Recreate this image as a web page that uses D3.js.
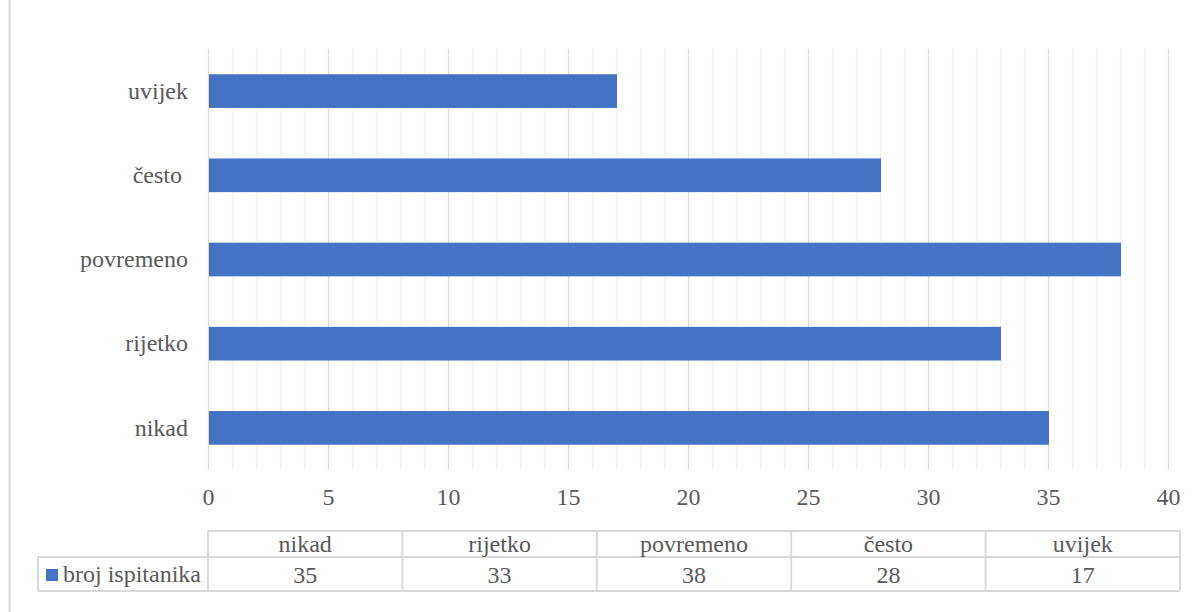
<!DOCTYPE html>
<html>
<head>
<meta charset="utf-8">
<script src="https://cdn.jsdelivr.net/npm/d3@7"></script>
</head>
<body style="margin:0">
<svg id="chart"></svg>
<script>
const categories = ["nikad", "rijetko", "povremeno", "često ", "uvijek"];
const values = [35, 33, 38, 28, 17];
const seriesName = "broj ispitanika";
const xTicks = [0, 5, 10, 15, 20, 25, 30, 35, 40];

const FONT = '"Liberation Serif"';
const FS = "24px";
const TXT = "#595959";

const width = 1196, height = 612;
const margin = { top: 49, left: 208, right: 28, bottom: 142 };
const iwidth = width - margin.left - margin.right;
const iheight = height - margin.top - margin.bottom;

const svg = d3.select("#chart").attr("width", width).attr("height", height)
  .style("font-family", FONT, "important");

// outer chart border (only left edge visible)
svg.append("line")
  .attr("x1", 9.5).attr("x2", 9.5).attr("y1", 0).attr("y2", height)
  .attr("stroke", "#d9d9d9").attr("stroke-width", 2);

const g = svg.append("g").attr("transform", `translate(${margin.left},${margin.top})`);

const x = d3.scaleLinear().domain([0, 40]).range([0, iwidth]);
const y = d3.scaleBand()
  .domain(categories.slice().reverse())
  .range([0, iheight])
  .paddingInner(0.6).paddingOuter(0.3);

// minor grid
g.append("g").selectAll("line")
  .data(d3.range(0, 41).filter(d => d % 5 !== 0))
  .join("line")
  .attr("x1", d => x(d) + 0.5).attr("x2", d => x(d) + 0.5)
  .attr("y1", 0).attr("y2", iheight)
  .attr("stroke", "#f0f0f0").attr("stroke-width", 1.3);

// major grid
g.append("g").selectAll("line")
  .data(xTicks)
  .join("line")
  .attr("x1", d => x(d) + 0.5).attr("x2", d => x(d) + 0.5)
  .attr("y1", 0).attr("y2", iheight)
  .attr("stroke", "#d9d9d9").attr("stroke-width", 1.3);

// bars
g.selectAll("rect.bar")
  .data(categories.map((c, i) => ({ c, v: values[i] })))
  .join("rect")
  .attr("class", "bar")
  .attr("x", x(0) + 1)
  .attr("y", d => y(d.c))
  .attr("width", d => x(d.v) - x(0))
  .attr("height", y.bandwidth())
  .attr("fill", "#4472c4");

function serif(sel) {
  return sel.style("font-family", FONT, "important")
    .style("font-size", FS).attr("fill", TXT);
}

// x axis labels
const xAxis = g.append("g")
  .attr("transform", `translate(0,${iheight})`)
  .call(d3.axisBottom(x).tickValues(xTicks).tickSize(0).tickPadding(18));
xAxis.attr("font-family", null).attr("font-size", null);
xAxis.select(".domain").remove();
serif(xAxis.selectAll("text"));

// y axis labels
const yAxis = g.append("g")
  .call(d3.axisLeft(y).tickSize(0).tickPadding(20));
yAxis.attr("font-family", null).attr("font-size", null);
yAxis.select(".domain").remove();
serif(yAxis.selectAll("text")).style("white-space", "pre");

// data table
const tTop = 531 - margin.top, rowH1 = 26, rowH2 = 34;
const tRight = 1180 - margin.left;
const colW = tRight / categories.length;
const legLeft = 38 - margin.left;
const tg = g.append("g");
const stroke = "#d9d9d9";

tg.append("line").attr("x1", 0).attr("x2", tRight).attr("y1", tTop).attr("y2", tTop).attr("stroke", stroke).attr("stroke-width", 2);
tg.append("line").attr("x1", legLeft).attr("x2", tRight).attr("y1", tTop + rowH1).attr("y2", tTop + rowH1).attr("stroke", stroke).attr("stroke-width", 2);
tg.append("line").attr("x1", legLeft).attr("x2", tRight).attr("y1", tTop + rowH1 + rowH2).attr("y2", tTop + rowH1 + rowH2).attr("stroke", stroke).attr("stroke-width", 2);
tg.append("line").attr("x1", legLeft).attr("x2", legLeft).attr("y1", tTop + rowH1).attr("y2", tTop + rowH1 + rowH2).attr("stroke", stroke).attr("stroke-width", 2);
tg.selectAll("line.col")
  .data(d3.range(0, categories.length + 1))
  .join("line")
  .attr("class", "col")
  .attr("x1", d => d * colW).attr("x2", d => d * colW)
  .attr("y1", tTop).attr("y2", tTop + rowH1 + rowH2)
  .attr("stroke", stroke).attr("stroke-width", 2);

serif(tg.selectAll("text.head")
  .data(categories)
  .join("text")
  .attr("class", "head")
  .attr("x", (d, i) => (i + 0.5) * colW)
  .attr("y", 552 - margin.top)
  .attr("text-anchor", "middle"))
  .text(d => d.trim());

serif(tg.selectAll("text.val")
  .data(values)
  .join("text")
  .attr("class", "val")
  .attr("x", (d, i) => (i + 0.5) * colW)
  .attr("y", 583 - margin.top)
  .attr("text-anchor", "middle"))
  .text(d => d);

tg.append("rect")
  .attr("x", 46 - margin.left).attr("y", 569 - margin.top)
  .attr("width", 12).attr("height", 12)
  .attr("fill", "#4472c4");
serif(tg.append("text")
  .attr("x", 63 - margin.left).attr("y", 582 - margin.top))
  .text(seriesName);
</script>
</body>
</html>
